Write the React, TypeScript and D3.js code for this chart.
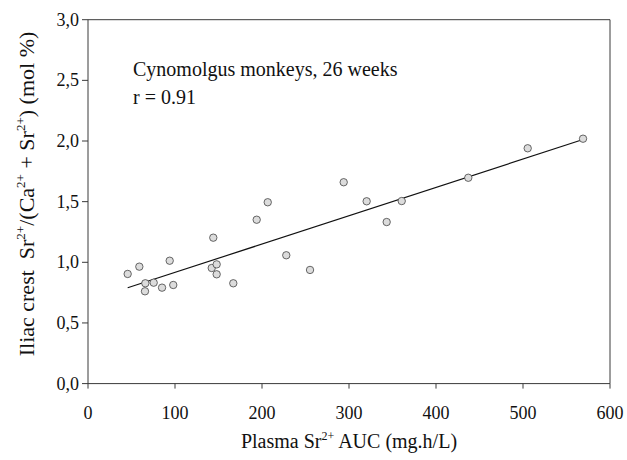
import React from "react";
import * as d3 from "d3";

const xValues = [45.6, 59.0, 93.9, 65.9, 65.5, 75.5, 85.1, 98.0, 144.0, 142.2, 147.9, 147.9, 167.0, 193.9, 206.6, 227.9, 255.2, 293.9, 320.3, 343.3, 360.6, 437.1, 505.4, 569.0];
const yValues = [0.904, 0.964, 1.013, 0.827, 0.761, 0.832, 0.791, 0.813, 1.203, 0.953, 0.983, 0.901, 0.827, 1.351, 1.495, 1.058, 0.937, 1.66, 1.503, 1.332, 1.505, 1.697, 1.94, 2.019];
const xTicks = [0, 100, 200, 300, 400, 500, 600];
const yTicks = [0, 0.5, 1.0, 1.5, 2.0, 2.5, 3.0];
const fitX = [45.6, 569];
const fitY = [0.79, 2.012];

const W = 627;
const H = 460;
const FONT = "'Liberation Serif', 'Times New Roman', serif";

export default function App() {
  const x = d3.scaleLinear().domain([0, 600]).range([88, 610]);
  const y = d3.scaleLinear().domain([0, 3]).range([383.6, 19.7]);
  const fmt = (v: number) => d3.format(".1f")(v).replace(".", ",");
  const line = d3
    .line<number>()
    .x((d) => x(d))
    .y((_, i) => y(fitY[i]));
  const [x0, x1] = x.range();
  const [y0, y1] = y.range();
  const axisColor = "#3a3a3a";
  return (
    <svg width={W} height={H} style={{ position: "absolute", left: 0, top: 0, background: "#fff" }} fontFamily={FONT}>
      <rect x={0} y={0} width={W} height={H} fill="#fff" />
      {/* frame */}
      <line x1={x0} y1={y1} x2={x1} y2={y1} stroke={axisColor} strokeWidth={1} />
      <line x1={x1} y1={y1} x2={x1} y2={y0} stroke={axisColor} strokeWidth={1} />
      <line x1={x0} y1={y0} x2={x1} y2={y0} stroke={axisColor} strokeWidth={1} />
      <line x1={x0} y1={y1} x2={x0} y2={y0} stroke={axisColor} strokeWidth={1} />
      {/* x ticks */}
      {xTicks.map((t) => (
        <g key={"xt" + t}>
          <line x1={x(t)} x2={x(t)} y1={y0} y2={y0 + 5} stroke={axisColor} strokeWidth={1} />
          <text x={x(t)} y={418.5} fontSize={18} textAnchor="middle" fill="#111">
            {t}
          </text>
        </g>
      ))}
      {/* y ticks */}
      {yTicks.map((t) => (
        <g key={"yt" + t}>
          <line x1={x0 - 6} x2={x0} y1={y(t)} y2={y(t)} stroke={axisColor} strokeWidth={1} />
          <text x={79} y={y(t)} dy="0.34em" fontSize={18} textAnchor="end" fill="#111">
            {fmt(t)}
          </text>
        </g>
      ))}
      {/* regression line */}
      <path d={line(fitX) || ""} fill="none" stroke="#111" strokeWidth={1.2} />
      {/* points */}
      {xValues.map((v, i) => (
        <circle key={"p" + i} cx={x(v)} cy={y(yValues[i])} r={3.7} fill="#dcdcdc" stroke="#444" strokeWidth={0.8} />
      ))}
      {/* annotations */}
      <text x={133} y={76} fontSize={20} fill="#111">
        Cynomolgus monkeys, 26 weeks
      </text>
      <text x={133} y={104} fontSize={20} fill="#111">
        r = 0.91
      </text>
      {/* x title */}
      <text x={(x0 + x1) / 2} y={448} fontSize={20} textAnchor="middle" fill="#111">
        Plasma Sr
        <tspan fontSize={12} dy={-8}>2+</tspan>
        <tspan dy={8}> AUC (mg.h/L)</tspan>
      </text>
      {/* y title */}
      <text transform={`translate(34, 194) rotate(-90)`} fontSize={22} textAnchor="middle" fill="#111">
        Iliac crest{"\u00a0\u00a0"}Sr
        <tspan fontSize={13} dy={-9}>2+</tspan>
        <tspan dy={9}>/(Ca</tspan>
        <tspan fontSize={13} dy={-9}>2+</tspan>
        <tspan dy={9}> + Sr</tspan>
        <tspan fontSize={13} dy={-9}>2+</tspan>
        <tspan dy={9}>) (mol %)</tspan>
      </text>
    </svg>
  );
}
